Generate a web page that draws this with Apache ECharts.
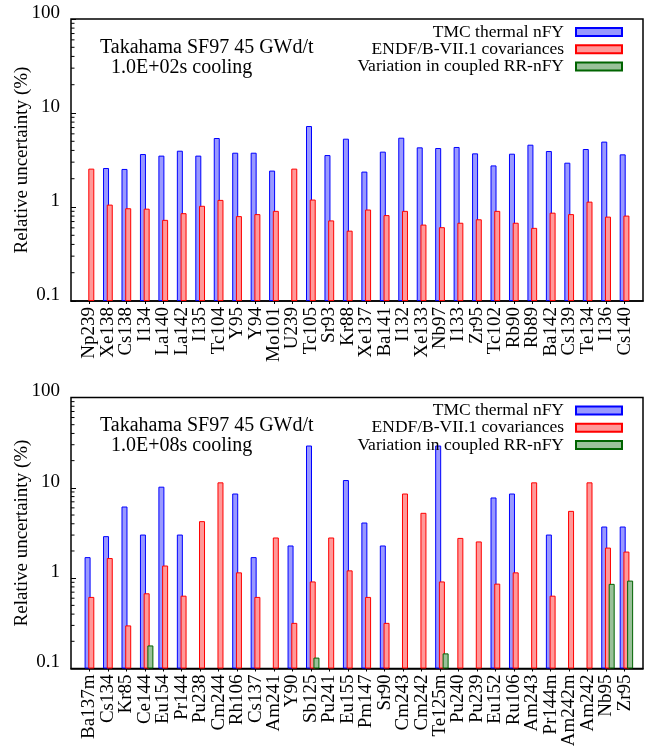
<!DOCTYPE html>
<html>
<head>
<meta charset="utf-8">
<script src="https://cdn.jsdelivr.net/npm/echarts@6/dist/echarts.min.js"></script>
<style>html,body{margin:0;padding:0;background:#fff}#c{width:648px;height:746px}</style>
</head>
<body>
<div id="c"></div>
<script>
// ---- data ----
const topCats = ['Np239','Xe138','Cs138','I134','La140','La142','I135','Tc104','Y95','Y94','Mo101','U239','Tc105','Sr93','Kr88','Xe137','Ba141','I132','Xe133','Nb97','I133','Zr95','Tc102','Rb90','Rb89','Ba142','Cs139','Te134','I136','Cs140'];
const topTMC = [null,2.60,2.54,3.66,3.52,3.97,3.52,5.42,3.78,3.78,2.44,null,7.27,3.57,5.33,2.38,3.88,5.46,4.31,4.24,4.35,3.72,2.77,3.69,4.60,3.94,2.96,4.14,4.96,3.63];
const topENDF = [2.56,1.06,0.97,0.96,0.73,0.86,1.03,1.19,0.80,0.84,0.91,2.56,1.20,0.72,0.56,0.94,0.82,0.91,0.65,0.61,0.68,0.74,0.91,0.68,0.60,0.87,0.84,1.14,0.79,0.81];
const topRR = [];

const botCats = ['Ba137m','Cs134','Kr85','Ce144','Eu154','Pr144','Pu238','Cm244','Rh106','Cs137','Am241','Y90','Sb125','Pu241','Eu155','Pm147','Sr90','Cm243','Cm242','Te125m','Pu240','Pu239','Eu152','Ru106','Am243','Pr144m','Am242m','Am242','Nb95','Zr95'];
const botTMC = [1.71,2.92,6.21,3.04,10.3,3.04,null,null,8.65,1.71,null,2.30,29.4,null,12.2,4.13,2.30,null,null,29.4,null,null,7.82,8.65,null,3.04,null,null,3.73,3.73];
const botENDF = [0.62,1.67,0.30,0.68,1.38,0.64,4.28,11.5,1.16,0.62,2.82,0.32,0.92,2.82,1.22,0.62,0.32,8.65,5.29,0.92,2.79,2.55,0.87,1.16,11.5,0.64,5.56,11.5,2.18,1.97];
const botRR = [null,null,null,0.18,null,null,null,null,null,null,null,null,0.132,null,null,null,null,null,null,0.147,null,null,null,null,null,null,null,null,0.865,0.94];

const seriesNames = ['TMC thermal nFY','ENDF/B-VII.1 covariances','Variation in coupled RR-nFY'];
const minorTicks = [0.2,0.3,0.4,0.5,0.6,0.7,0.8,0.9,2,3,4,5,6,7,8,9,20,30,40,50,60,70,80,90];
const titles = [['Takahama SF97 45 GWd/t','1.0E+02s cooling'],['Takahama SF97 45 GWd/t','1.0E+08s cooling']];
const yName = 'Relative uncertainty (%)';

// ---- layout ----
const FONT = '"Liberation Serif","DejaVu Serif",serif';
const xMin = -1, xMax = 30;
const grids = [
  {left: 71, top: 19, width: 572, height: 282},
  {left: 71, top: 397.5, width: 572, height: 271}
];
const colors = [
  {fill: '#9999ff', stroke: '#0000ff'},
  {fill: '#ff9999', stroke: '#ff0000'},
  {fill: '#99c199', stroke: '#006400'}
];

function toPairs(arr) {
  const out = [];
  arr.forEach((v, i) => { if (v != null) out.push([i, v]); });
  return out;
}

const option = {
  animation: false,
  backgroundColor: '#fff',
  textStyle: {fontFamily: FONT, color: '#000'},
  grid: grids.map(g => Object.assign({show: true, borderColor: '#000', borderWidth: 1.5, backgroundColor: 'transparent', containLabel: false, outerBoundsMode: 'none'}, g)),
  xAxis: [0, 1].map(k => {
    const cats = k === 0 ? topCats : botCats;
    return {
      type: 'value', gridIndex: k, min: xMin, max: xMax, interval: 1,
      splitLine: {show: false},
      axisLine: {show: true, onZero: false, lineStyle: {color: '#000', width: 1.5}},
      axisTick: {show: true, inside: false, length: 3, lineStyle: {color: '#000'}, customValues: cats.map((c, i) => i)},
      axisLabel: {
        show: true, rotate: 90, margin: 6, fontSize: 19, fontFamily: FONT, color: '#000',
        hideOverlap: false,
        formatter: v => {
          const i = Math.round(v);
          return (i >= 0 && i < cats.length) ? cats[i] : '';
        }
      }
    };
  }),
  yAxis: [0, 1].map(k => ({
    type: 'log', logBase: 10, gridIndex: k, min: 0.1, max: 100, startValue: 0.1,
    splitLine: {show: false},
    axisLine: {show: false, onZero: false},
    axisTick: {show: true, inside: true, length: 5, lineStyle: {color: '#000'}},
    minorTick: {show: false},
    axisLabel: {fontSize: 19, fontFamily: FONT, color: '#000', margin: 11, verticalAlign: 'bottom', lineHeight: 12,
      formatter: v => String(+(+v).toPrecision(3))},
    name: yName, nameLocation: 'middle', nameGap: 39, nameRotate: 90, nameMoveOverlap: false,
    nameTextStyle: {fontSize: 19, fontFamily: FONT, color: '#000'}
  })),
  title: [],
  legend: [],
  series: []
};

const rowOffsets = [13, 30.3, 47.6];
[0, 1].forEach(k => {
  const g = grids[k];
  option.title.push({text: titles[k][0], left: 100, top: g.top + 18.5, padding: 0,
    textStyle: {fontSize: 20, fontWeight: 'normal', fontFamily: FONT, color: '#000', lineHeight: 20}});
  option.title.push({text: titles[k][1], left: 111, top: g.top + 38.5, padding: 0,
    textStyle: {fontSize: 20, fontWeight: 'normal', fontFamily: FONT, color: '#000', lineHeight: 20}});
  seriesNames.forEach((n, j) => {
    option.legend.push({
      data: [n], orient: 'vertical', align: 'right', right: 25, top: g.top + rowOffsets[j] - 9,
      padding: 0, itemWidth: 46, itemHeight: 8, selectedMode: false, icon: 'rect',
      textStyle: {fontSize: 17.5, fontFamily: FONT, color: '#000', lineHeight: 18, padding: [0, 7, 0, 0]}
    });
  });
  const sets = k === 0 ? [topTMC, topENDF, topRR] : [botTMC, botENDF, botRR];
  // spacer series (empty) so the bar cluster sits like the original
  option.series.push({type: 'bar', name: '_spacer' + k, xAxisIndex: k, yAxisIndex: k, data: [], barWidth: 6, barGap: '-38%'});
  sets.forEach((arr, j) => {
    option.series.push({
      type: 'bar', name: seriesNames[j], xAxisIndex: k, yAxisIndex: k,
      data: toPairs(arr), barWidth: 6, barGap: '-38%',
      itemStyle: {color: colors[j].fill, borderColor: colors[j].stroke, borderWidth: 1},
      emphasis: {disabled: true}
    });
  });
  option.series.push({
    type: 'custom', name: '_minor' + k, xAxisIndex: k, yAxisIndex: k, silent: true, clip: false,
    dimensions: ['x', 'y'], encode: {x: 0, y: 1},
    data: minorTicks.map(v => [xMin, v]),
    renderItem: (params, api) => {
      const p = api.coord([api.value(0), api.value(1)]);
      return {type: 'line', shape: {x1: p[0], y1: p[1], x2: p[0] + 3.5, y2: p[1]}, style: {stroke: '#000', lineWidth: 1}};
    },
    z: 5
  });
});

const chart = echarts.init(document.getElementById('c'), null, {renderer: 'canvas'});
chart.setOption(option);
</script>
</body>
</html>
